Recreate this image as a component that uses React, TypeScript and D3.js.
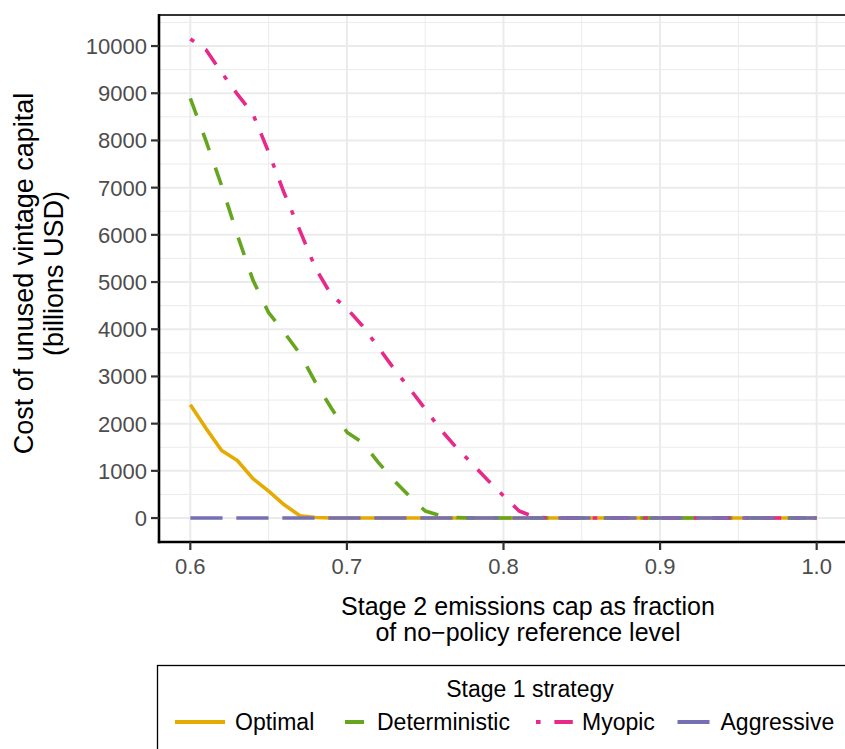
import React from "react";
import * as d3 from "d3";

const xValues = [0.60,0.61,0.62,0.63,0.64,0.65,0.66,0.67,0.68,0.69,0.70,0.71,0.72,0.73,0.74,0.75,0.76,0.77,0.78,0.79,0.80,0.81,0.82,0.83,0.84,0.85,0.86,0.87,0.88,0.89,0.90,0.91,0.92,0.93,0.94,0.95,0.96,0.97,0.98,0.99,1.00];

const optimal = [2400,1900,1430,1220,835,570,280,50,10,0,0,0,0,0,0,0,0,0,0,0,0,0,0,0,0,0,0,0,0,0,0,0,0,0,0,0,0,0,0,0,0];
const deterministic = [8890,7990,7040,6000,5040,4350,3930,3480,2870,2330,1820,1600,1180,800,460,150,50,10,0,0,0,0,0,0,0,0,0,0,0,0,0,0,0,0,0,0,0,0,0,0,0];
const myopic = [10150,9920,9440,8980,8560,7750,6880,6090,5290,4730,4440,4070,3620,3165,2745,2310,1870,1490,1150,800,470,150,20,0,0,0,0,0,0,0,0,0,0,0,0,0,0,0,0,0,0];
const aggressive = [0,0,0,0,0,0,0,0,0,0,0,0,0,0,0,0,0,0,0,0,0,0,0,0,0,0,0,0,0,0,0,0,0,0,0,0,0,0,0,0,0];

const seriesNames = ["Optimal", "Deterministic", "Myopic", "Aggressive"];
const seriesValues = [optimal, deterministic, myopic, aggressive];
const seriesColors = ["#E6AB02", "#66A61E", "#E7298A", "#7570B3"];
const seriesDash = ["none", "18.4 18.4", "4.6 13.8 18.4 13.8", "32.2 13.8"];

const xTicks = [0.6, 0.7, 0.8, 0.9, 1.0];
const xMinor = [0.65, 0.75, 0.85, 0.95];
const yTicks = [0,1000,2000,3000,4000,5000,6000,7000,8000,9000,10000];
const yMinor = [-500,500,1500,2500,3500,4500,5500,6500,7500,8500,9500,10500];

const FONT = "'Liberation Sans', Arial, Helvetica, sans-serif";

export default function App() {
  const W = 845, H = 749;
  const pL = 159, pT = 15, pR = 848, pB = 542;
  const x = d3.scaleLinear().domain([0.58, 1.02]).range([pL, pR]);
  const maxV = d3.max(seriesValues.flat()) as number;
  const ext = maxV * 0.05;
  const y = d3.scaleLinear().domain([-ext, maxV + ext]).range([pB, pT]);
  const line = d3.line<number>().x((_, i) => x(xValues[i])).y((d) => y(d));

  // legend layout
  const legTextX = [235, 377, 582, 720.5];
  const legKeys = [
    { x0: 175, x1: 225, dash: "none" },
    { x0: 345, x1: 364, dash: "none" },
    { x0: 536, x1: 573, dash: "4.6 13.8 18.4 13.8" },
    { x0: 677.5, x1: 709.5, dash: "none" },
  ];
  const legY = 722;

  return (
    <svg width={W} height={H} style={{ position: "absolute", left: 0, top: 0, display: "block", background: "#fff" }} fontFamily={FONT}>
      <defs>
        <clipPath id="panel">
          <rect x={pL} y={pT} width={pR - pL} height={pB - pT} />
        </clipPath>
      </defs>
      {/* grid */}
      <g>
        {yMinor.map((v) => (
          <line key={"ym" + v} x1={pL} x2={pR} y1={y(v)} y2={y(v)} stroke="#EBEBEB" strokeWidth={1} />
        ))}
        {xMinor.map((v) => (
          <line key={"xm" + v} x1={x(v)} x2={x(v)} y1={pT} y2={pB} stroke="#EBEBEB" strokeWidth={1} />
        ))}
        {yTicks.map((v) => (
          <line key={"yg" + v} x1={pL} x2={pR} y1={y(v)} y2={y(v)} stroke="#EBEBEB" strokeWidth={2} />
        ))}
        {xTicks.map((v) => (
          <line key={"xg" + v} x1={x(v)} x2={x(v)} y1={pT} y2={pB} stroke="#EBEBEB" strokeWidth={2} />
        ))}
      </g>
      {/* series */}
      <g clipPath="url(#panel)">
        {seriesValues.map((vals, i) => (
          <path
            key={seriesNames[i]}
            d={line(vals) as string}
            fill="none"
            stroke={seriesColors[i]}
            strokeWidth={3.6}
            strokeDasharray={seriesDash[i]}
            strokeLinejoin="round"
            strokeLinecap="butt"
          />
        ))}
      </g>
      {/* panel top border */}
      <line x1={pL} x2={pR} y1={pT} y2={pT} stroke="#333" strokeWidth={2.2} />
      {/* axes */}
      <line x1={pL} x2={pL} y1={pT - 1} y2={pB + 1.2} stroke="#000" strokeWidth={2.6} />
      <line x1={pL - 1.2} x2={pR} y1={pB} y2={pB} stroke="#000" strokeWidth={2.6} />
      {/* y ticks */}
      {yTicks.map((v) => (
        <g key={"yt" + v}>
          <line x1={pL - 8} x2={pL} y1={y(v)} y2={y(v)} stroke="#333" strokeWidth={2.2} />
          <text x={pL - 12} y={y(v)} dy="0.36em" textAnchor="end" fontSize={22} fill="#4D4D4D">
            {d3.format("d")(v)}
          </text>
        </g>
      ))}
      {/* x ticks */}
      {xTicks.map((v) => (
        <g key={"xt" + v}>
          <line x1={x(v)} x2={x(v)} y1={pB} y2={pB + 8} stroke="#333" strokeWidth={2.2} />
          <text x={x(v)} y={573.5} textAnchor="middle" fontSize={22} fill="#4D4D4D">
            {d3.format(".1f")(v)}
          </text>
        </g>
      ))}
      {/* axis titles */}
      <text x={528} y={615} textAnchor="middle" fontSize={25} fill="#000">Stage 2 emissions cap as fraction</text>
      <text x={528} y={641} textAnchor="middle" fontSize={25} fill="#000">of no−policy reference level</text>
      <text transform="translate(33,273.5) rotate(-90)" textAnchor="middle" fontSize={27} fill="#000">Cost of unused vintage capital</text>
      <text transform="translate(62.5,273.5) rotate(-90)" textAnchor="middle" fontSize={27} fill="#000">(billions USD)</text>
      {/* legend */}
      <rect x={157.5} y={665.5} width={800} height={200} fill="#fff" stroke="#000" strokeWidth={1.3} />
      <text x={530} y={697} textAnchor="middle" fontSize={23} fill="#000">Stage 1 strategy</text>
      {seriesNames.map((n, i) => (
        <g key={"leg" + n}>
          <line x1={legKeys[i].x0} x2={legKeys[i].x1} y1={legY} y2={legY} stroke={seriesColors[i]} strokeWidth={4} strokeDasharray={legKeys[i].dash} />
          <text x={legTextX[i]} y={legY} dy="0.36em" fontSize={23} fill="#000">{n}</text>
        </g>
      ))}
    </svg>
  );
}
